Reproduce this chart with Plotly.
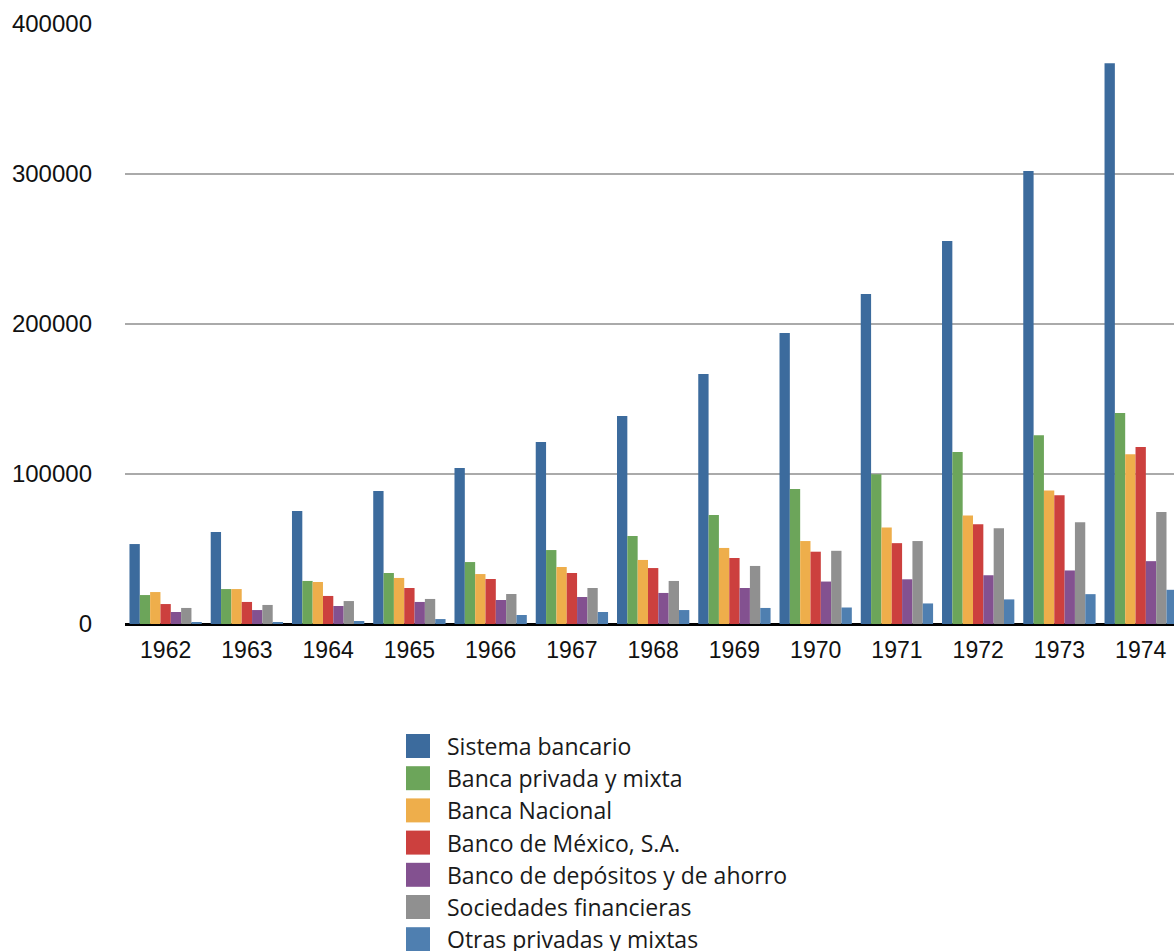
import plotly.graph_objects as go

years = ["1962", "1963", "1964", "1965", "1966", "1967", "1968",
         "1969", "1970", "1971", "1972", "1973", "1974"]

series_names = [
    "Sistema bancario",
    "Banca privada y mixta",
    "Banca Nacional",
    "Banco de México, S.A.",
    "Banco de depósitos y de ahorro",
    "Sociedades financieras",
    "Otras privadas y mixtas",
]

sistema_bancario = [53300, 61300, 75300, 88700, 104000, 121300, 138700,
                    166700, 194000, 220000, 255400, 302000, 373800]
banca_privada = [19300, 23300, 28700, 34000, 41300, 49300, 58700,
                 72700, 90000, 99800, 114600, 125800, 140600]
banca_nacional = [21300, 23300, 28000, 30700, 33300, 38000, 42700,
                  50700, 55300, 64400, 72400, 89000, 113200]
banco_mexico = [13300, 14700, 18700, 24000, 30000, 34000, 37300,
                44000, 48200, 53900, 66500, 85900, 118000]
banco_depositos = [8000, 9300, 12000, 14700, 16000, 18000, 20700,
                   24000, 28300, 29800, 32500, 35700, 41900]
sociedades_fin = [10700, 12700, 15300, 16700, 20000, 24000, 28700,
                  38700, 48800, 55300, 63900, 67900, 74600]
otras_privadas = [1300, 1200, 2000, 3300, 6000, 8000, 9300,
                  10700, 11000, 13700, 16400, 19900, 22800]

series_values = [sistema_bancario, banca_privada, banca_nacional, banco_mexico,
                 banco_depositos, sociedades_fin, otras_privadas]

colors = ["#3c6b9d", "#6ca55a", "#eeae4b", "#cc403e", "#835190", "#909090", "#4f7fb0"]

y_tick_vals = [0, 100000, 200000, 300000, 400000]
y_tick_text = ["0", "100000", "200000", "300000", "400000"]

W, H = 1174, 951
ML, MR, MT, MB = 125, 0, 24, 327
PW = W - ML - MR
PH = H - MT - MB

fig = go.Figure()
for name, vals, col in zip(series_names, series_values, colors):
    fig.add_trace(go.Bar(x=years, y=vals, name=name, marker_color=col,
                         marker_line_width=0, showlegend=False))

# custom legend (swatches + labels)
def px_to_paper_x(px):
    return (px - ML) / PW

def px_to_paper_y(py):
    return (H - MB - py) / PH

for i, (name, col) in enumerate(zip(series_names, colors)):
    cy = 746 + i * 32.2
    fig.add_shape(type="rect", xref="paper", yref="paper",
                  x0=px_to_paper_x(406), x1=px_to_paper_x(430),
                  y0=px_to_paper_y(cy - 12), y1=px_to_paper_y(cy + 12),
                  fillcolor=col, line_width=0)
    fig.add_annotation(xref="paper", yref="paper",
                       x=px_to_paper_x(446), y=px_to_paper_y(cy),
                       text=name, showarrow=False, xanchor="left", yanchor="middle",
                       borderpad=0,
                       font=dict(family="Open Sans", size=23, color="#1a1a1a"))

fig.update_layout(
    width=W, height=H,
    margin=dict(l=ML, r=MR, t=MT, b=MB),
    paper_bgcolor="white", plot_bgcolor="white",
    barmode="group", bargap=0.11, bargroupgap=0.0,
    font=dict(family="Liberation Sans, Arial, sans-serif", size=22, color="#111111"),
)
fig.update_xaxes(
    type="category", range=[-0.5, 12.41],
    showgrid=False, showline=False, zeroline=False,
    ticks="", ticklabelstandoff=10,
    tickfont=dict(size=23, color="#111111"),
)
fig.update_yaxes(
    range=[0, 400000], tickvals=y_tick_vals, ticktext=y_tick_text,
    showgrid=True, gridcolor="#aaaaaa", gridwidth=2,
    zeroline=True, zerolinecolor="#000000", zerolinewidth=2.5,
    showline=False, ticks="", ticklabelstandoff=32,
    tickfont=dict(size=24, color="#111111"),
)

fig.write_html("out.html")
